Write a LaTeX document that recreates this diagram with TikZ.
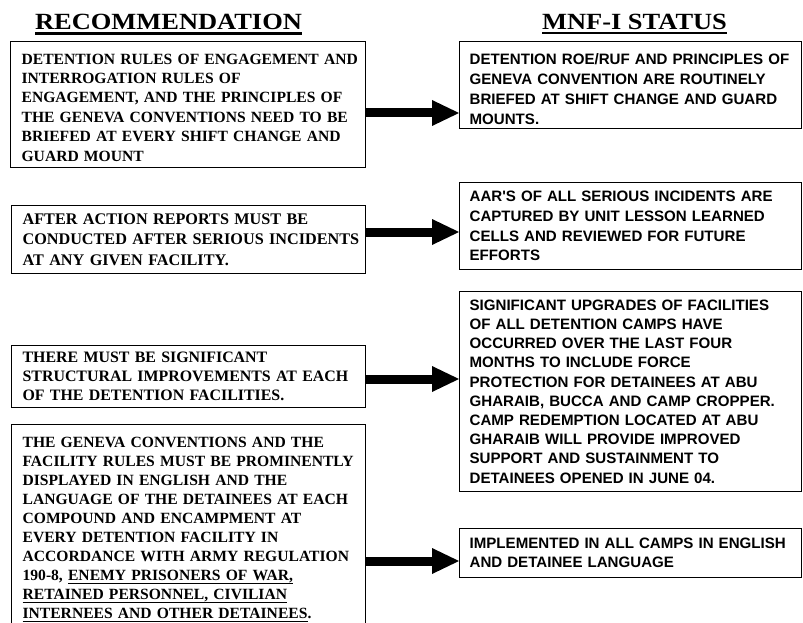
\documentclass[tikz,border=0pt]{standalone}
\usepackage{fontspec}
\usepackage{graphicx}
\setmainfont{Liberation Serif}
\newfontfamily\arialf{Liberation Sans}
\usetikzlibrary{arrows.meta}
\newsavebox\myulbox
\newcommand\myul[1]{\sbox\myulbox{#1}\rlap{\rule[-3pt]{\wd\myulbox}{1.2pt}}\usebox\myulbox}
\newcommand\headul[1]{\sbox\myulbox{#1}\rlap{\rule[-4pt]{\wd\myulbox}{2.4pt}}\usebox\myulbox}
\newcommand\lin[1]{\mbox{#1}}
\begin{document}
\begin{tikzpicture}[x=1pt,y=-1pt,
  boxbase/.style={draw, line width=1.2pt, anchor=north west, align=left, inner ysep=0pt},
  lbox/.style={boxbase, inner xsep=11pt},
  rbox/.style={boxbase, inner xsep=10pt},
  lfont/.style 2 args={font=\fontsize{#1}{#2}\selectfont\bfseries},
  rfont/.style 2 args={font=\fontsize{#1}{#2}\selectfont\arialf\bfseries},
  conn/.style={line width=9pt, -{Triangle[length=27pt,width=26pt,line width=0pt]}},
  head/.style={font=\fontsize{23.2}{28}\selectfont\bfseries, inner sep=0pt, anchor=base}]
\useasboundingbox (0,0) rectangle (803,623);

\coordinate (u1) at (0,32.2);
\coordinate (u2) at (0,34.8);
\node[head] (h1) at (168.5,30) {\scalebox{1.14}[1]{RECOMMENDATION}};
\node[head] (h2) at (634.5,30) {\headul{\scalebox{1.14}[1]{MNF-I STATUS}}};
\fill[black] (h1.west |- u1) rectangle (h1.east |- u2);

\node[lbox, lfont={15.6}{19.4}, text width=333pt, minimum height=126pt] (L1) at (10,41)
 {\rule{0pt}{16.3pt}\lin{DETENTION RULES OF ENGAGEMENT AND}\\ \lin{INTERROGATION RULES OF}\\ \lin{ENGAGEMENT, AND THE PRINCIPLES OF}\\ \lin{THE GENEVA CONVENTIONS NEED TO BE}\\ \lin{BRIEFED AT EVERY SHIFT CHANGE AND}\\ \lin{GUARD MOUNT}};
\node[lbox, lfont={16.2}{20.8}, text width=332pt, minimum height=68pt] (L2) at (11,205)
 {\lin{AFTER ACTION REPORTS MUST BE}\\ \lin{CONDUCTED AFTER SERIOUS INCIDENTS}\\ \lin{AT ANY GIVEN FACILITY.}};
\node[lbox, lfont={15.9}{19.2}, text width=332pt, minimum height=62pt] (L3) at (11,345)
 {\lin{THERE MUST BE SIGNIFICANT}\\ \lin{STRUCTURAL IMPROVEMENTS AT EACH}\\ \lin{OF THE DETENTION FACILITIES.}};

\node[rbox, rfont={15.1}{19.7}, text width=322pt, minimum height=87pt] (R1) at (459,41)
 {\rule{0pt}{19pt}\lin{DETENTION ROE/RUF AND PRINCIPLES OF}\\ \lin{GENEVA CONVENTION ARE ROUTINELY}\\ \lin{BRIEFED AT SHIFT CHANGE AND GUARD}\\ \lin{MOUNTS.}};
\node[rbox, rfont={15.1}{19.7}, text width=322pt, minimum height=87pt] (R2) at (459,182)
 {\lin{AAR'S OF ALL SERIOUS INCIDENTS ARE}\\ \lin{CAPTURED BY UNIT LESSON LEARNED}\\ \lin{CELLS AND REVIEWED FOR FUTURE}\\ \lin{EFFORTS}};
\node[rbox, rfont={15.1}{19.2}, text width=322pt, minimum height=200pt] (R3) at (459,291)
 {\lin{SIGNIFICANT UPGRADES OF FACILITIES}\\ \lin{OF ALL DETENTION CAMPS HAVE}\\ \lin{OCCURRED OVER THE LAST FOUR}\\ \lin{MONTHS TO INCLUDE FORCE}\\ \lin{PROTECTION FOR DETAINEES AT ABU}\\ \lin{GHARAIB, BUCCA AND CAMP CROPPER.}\\ \lin{CAMP REDEMPTION LOCATED AT ABU}\\ \lin{GHARAIB WILL PROVIDE IMPROVED}\\ \lin{SUPPORT AND SUSTAINMENT TO}\\ \lin{DETAINEES OPENED IN JUNE 04.}};
\node[rbox, rfont={15.1}{19}, text width=322pt, minimum height=49pt] (R4) at (459,528)
 {\lin{IMPLEMENTED IN ALL CAMPS IN ENGLISH}\\ \lin{AND DETAINEE LANGUAGE}};

\begin{scope}
\clip (0,0) rectangle (803,623);
\node[lbox, lfont={15.6}{19.0}, text width=332pt, inner ysep=13pt] (L4) at (11,424)
 {\lin{THE GENEVA CONVENTIONS AND THE}\\ \lin{FACILITY RULES MUST BE PROMINENTLY}\\ \lin{DISPLAYED IN ENGLISH AND THE}\\ \lin{LANGUAGE OF THE DETAINEES AT EACH}\\ \lin{COMPOUND AND ENCAMPMENT AT}\\ \lin{EVERY DETENTION FACILITY IN}\\ \lin{ACCORDANCE WITH ARMY REGULATION}\\ \lin{190-8, \myul{ENEMY PRISONERS OF WAR,}}\\ \lin{\myul{RETAINED PERSONNEL, CIVILIAN}}\\ \lin{\myul{INTERNEES AND OTHER DETAINEES}.}};
\end{scope}

\coordinate (a1) at (0,113);
\coordinate (a2) at (0,232);
\coordinate (a3) at (0,379);
\coordinate (a4) at (0,561);
\draw[conn] (L1.east |- a1) -- (R1.west |- a1);
\draw[conn] (L2.east |- a2) -- (R2.west |- a2);
\draw[conn] (L3.east |- a3) -- (R3.west |- a3);
\draw[conn] (L4.east |- a4) -- (R4.west |- a4);
\end{tikzpicture}
\end{document}
